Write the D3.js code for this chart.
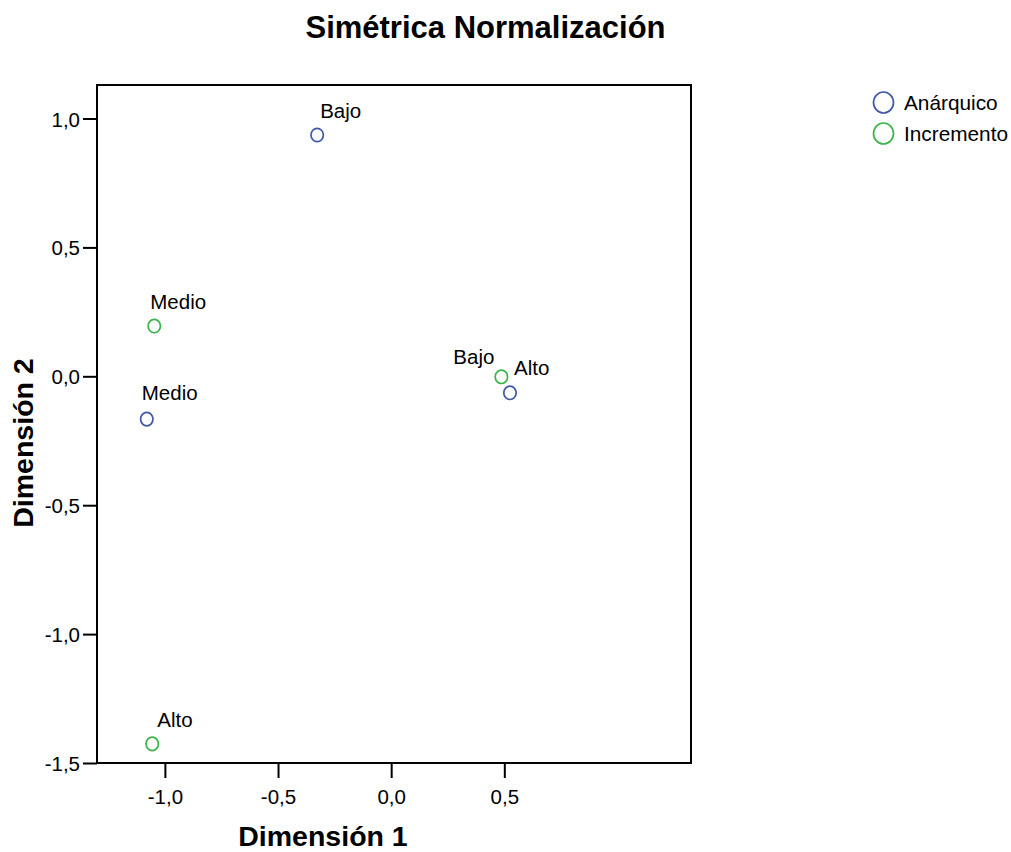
<!DOCTYPE html>
<html>
<head>
<meta charset="utf-8">
<script src="https://cdn.jsdelivr.net/npm/d3@7"></script>
<style>
  body { margin: 0; background: #fff; }
  text { font-family: "Liberation Sans", Arial, sans-serif; fill: #000; }
</style>
</head>
<body>
<svg id="chart"></svg>
<script>
// data
const categories = ['Bajo', 'Medio', 'Alto'];
const seriesNames = ['Anárquico', 'Incremento'];
const anarquicoDim1 = [-0.327, -1.080, 0.525];
const anarquicoDim2 = [0.936, -0.166, -0.064];
const incrementoDim1 = [0.487, -1.047, -1.056];
const incrementoDim2 = [-0.002, 0.195, -1.426];
const xTicks = [-1.0, -0.5, 0.0, 0.5];
const yTicks = [1.0, 0.5, 0.0, -0.5, -1.0, -1.5];

const colors = { 'Anárquico': '#4157a9', 'Incremento': '#3bb54a' };

// label placement around each point (dx, dy, anchor)
const labelPos = {
    'Anárquico|Bajo': [3, -17, 'start'],
    'Anárquico|Medio': [-5, -19, 'start'],
    'Anárquico|Alto': [4, -18, 'start'],
    'Incremento|Bajo': [-7, -13, 'end'],
    'Incremento|Medio': [-4, -17, 'start'],
    'Incremento|Alto': [5, -17, 'start']
};

const points = [];
categories.forEach((c, i) => {
    points.push({ series: 'Anárquico', label: c, x: anarquicoDim1[i], y: anarquicoDim2[i] });
});
categories.forEach((c, i) => {
    points.push({ series: 'Incremento', label: c, x: incrementoDim1[i], y: incrementoDim2[i] });
});

const width = 1011, height = 852;
const frame = { left: 97, right: 691, top: 85, bottom: 763 };

const svg = d3.select('#chart')
    .attr('width', width)
    .attr('height', height);

const x = d3.scaleLinear().domain([-1.3, 1.325]).range([frame.left, frame.right]);
const y = d3.scaleLinear().domain([-1.5, 1.13]).range([frame.bottom, frame.top]);

const fmt = d => d.toFixed(1).replace('.', ',');

// title
svg.append('text')
    .attr('x', 485.5)
    .attr('y', 38)
    .attr('text-anchor', 'middle')
    .style('font-size', '31px')
    .style('font-weight', 'bold')
    .text('Simétrica Normalización');

// axes
const xAxis = svg.append('g')
    .attr('transform', `translate(0,${frame.bottom})`)
    .call(d3.axisBottom(x).tickValues(xTicks).tickSize(15).tickPadding(10).tickFormat(fmt));
xAxis.select('.domain').remove();
xAxis.selectAll('line').attr('stroke', '#000').attr('stroke-width', 2);
xAxis.selectAll('text')
    .attr('dy', null)
    .attr('y', 41)
    .style('font-size', '20.5px');

const yAxis = svg.append('g')
    .attr('transform', `translate(${frame.left},0)`)
    .call(d3.axisLeft(y).tickValues(yTicks).tickSize(14).tickPadding(3).tickFormat(fmt));
yAxis.select('.domain').remove();
yAxis.selectAll('line').attr('stroke', '#000').attr('stroke-width', 2);
yAxis.selectAll('text')
    .attr('dy', null)
    .attr('y', 7.5)
    .style('font-size', '20.5px');

// frame
svg.append('rect')
    .attr('x', frame.left)
    .attr('y', frame.top)
    .attr('width', frame.right - frame.left)
    .attr('height', frame.bottom - frame.top)
    .attr('fill', 'none')
    .attr('stroke', '#000')
    .attr('stroke-width', 2);

// axis titles
svg.append('text')
    .attr('x', 323)
    .attr('y', 846)
    .attr('text-anchor', 'middle')
    .style('font-size', '28.5px')
    .style('font-weight', 'bold')
    .text('Dimensión 1');

svg.append('text')
    .attr('transform', 'translate(33,443) rotate(-90)')
    .attr('text-anchor', 'middle')
    .style('font-size', '28.5px')
    .style('font-weight', 'bold')
    .text('Dimensión 2');

// points
const pts = svg.append('g');
pts.selectAll('ellipse')
    .data(points)
    .join('ellipse')
    .attr('cx', d => x(d.x))
    .attr('cy', d => y(d.y))
    .attr('rx', 6.2)
    .attr('ry', 6.7)
    .attr('fill', 'none')
    .attr('stroke', d => colors[d.series])
    .attr('stroke-width', 1.7);

pts.selectAll('text')
    .data(points)
    .join('text')
    .attr('x', d => x(d.x) + labelPos[d.series + '|' + d.label][0])
    .attr('y', d => y(d.y) + labelPos[d.series + '|' + d.label][1])
    .attr('text-anchor', d => labelPos[d.series + '|' + d.label][2])
    .style('font-size', '20.5px')
    .text(d => d.label);

// legend
const legend = svg.append('g');
const item = legend.selectAll('g')
    .data(seriesNames)
    .join('g')
    .attr('transform', (d, i) => `translate(883.5,${102.5 + i * 31})`);
item.append('ellipse')
    .attr('rx', 10)
    .attr('ry', 10.5)
    .attr('fill', 'none')
    .attr('stroke', d => colors[d])
    .attr('stroke-width', 1.7);
item.append('text')
    .attr('x', 20.5)
    .attr('y', 7.5)
    .style('font-size', '20.8px')
    .text(d => d);
</script>
</body>
</html>
